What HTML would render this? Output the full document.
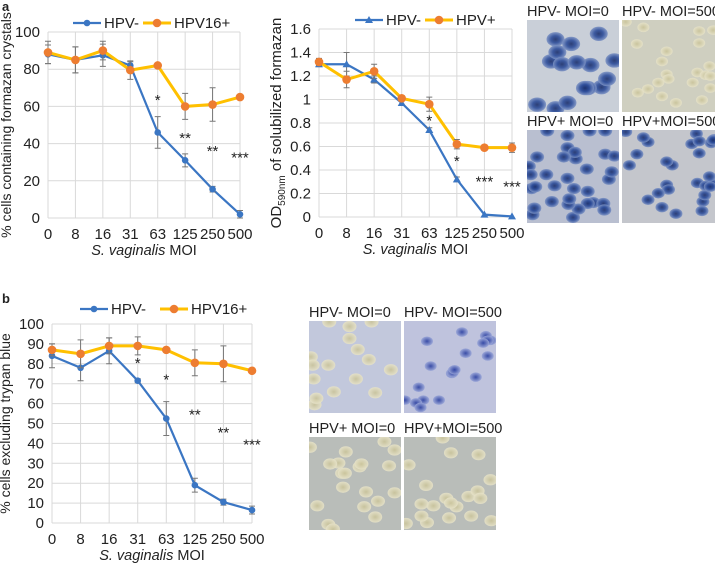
<!DOCTYPE html>
<html><head><meta charset="utf-8">
<style>
body{margin:0;background:#fff;width:715px;height:564px;overflow:hidden;font-family:"Liberation Sans",sans-serif;}
svg{position:absolute;left:0;top:0}
text{font-family:"Liberation Sans",sans-serif;fill:#222}
</style></head>
<body>
<svg id="fig" width="715" height="564" viewBox="0 0 715 564">
<defs>
<radialGradient id="cellDark"><stop offset="0" stop-color="#1b2f6b"/><stop offset="0.5" stop-color="#2d4d9a"/><stop offset="1" stop-color="#7d93c4"/></radialGradient>
<radialGradient id="cellPale"><stop offset="0" stop-color="#c9c39a"/><stop offset="1" stop-color="#e6e2c8"/></radialGradient>
<radialGradient id="cellBlue"><stop offset="0" stop-color="#2a3fa0"/><stop offset="1" stop-color="#9aa6d8"/></radialGradient>
</defs>
<text x="2" y="11" font-size="13" font-weight="bold">a</text>
<text x="2" y="303" font-size="13" font-weight="bold">b</text>
<g id="chartA"></g>
<g id="chartB"></g>
<g id="chartC"></g>
<g id="imgs"></g>
</svg>
<script>
// ---------- data ----------
const categories = ["0","8","16","31","63","125","250","500"];
// Chart A
const aNeg = [88,85,87.5,82,46,31,15.5,2];
const aNegErr = [5,7,6,2,8.5,3.5,1.5,2];
const aPos = [89,85,90,79.5,82,60,61,65];
const aPosErr = [6,7,5,5,0,7,9,0];
const aTicks = [0,20,40,60,80,100];
const aStars = [["*",4,64],["**",5,43.5],["**",6,36.5],["***",7,33]];
// Chart B
const bNeg = [1.30,1.30,1.17,0.97,0.74,0.32,0.02,0.005];
const bNegErr = [0.02,0.1,0.03,0.02,0.02,0.02,0,0];
const bPos = [1.32,1.17,1.24,1.01,0.96,0.62,0.59,0.59];
const bPosErr = [0.03,0.07,0.06,0.02,0.06,0.04,0,0.04];
const bTicks = [0,0.2,0.4,0.6,0.8,1,1.2,1.4,1.6];
const bTickLabels = ["0","0.2","0.4","0.6","0.8","1","1.2","1.4","1.6"];
const bStars = [["*",4,0.83],["*",5,0.485],["***",6,0.31],["***",7,0.27]];
// Chart C
const cNeg = [84,78,86.5,71.5,52.5,19,10.5,6.5];
const cNegErr = [6,6.5,6.5,1,8.5,3.5,1.5,2];
const cPos = [87,85,89,89,87,80.5,80,76.5];
const cPosErr = [3,7,4,4.5,0,6.5,9,0];
const cTicks = [0,10,20,30,40,50,60,70,80,90,100];
const cStars = [["*",3,81],["*",4,72.5],["**",5,55],["**",6,46],["***",7,40]];

const NS="http://www.w3.org/2000/svg";
function mk(parent,tag,attrs,txt){const e=document.createElementNS(NS,tag);for(const k in attrs)e.setAttribute(k,attrs[k]);if(txt!==undefined)e.textContent=txt;parent.appendChild(e);return e;}
const BLUE="#3b76c3", YEL="#ffc000", ORG="#ed7d31";

function chart(g,cfg){
  const x=i=>cfg.x0+i*(cfg.x1-cfg.x0)/(categories.length-1);
  const y=v=>cfg.y0-(v-cfg.vmin)/(cfg.vmax-cfg.vmin)*(cfg.y0-cfg.y1);
  cfg.ticks.forEach((t,i)=>{
    const l=mk(g,"line",{x1:cfg.x0,x2:cfg.x1,y1:y(t),y2:y(t),stroke:"#d9d9d9","stroke-width":1});
    
    
    const tx=mk(g,"text",{x:cfg.x0-8,y:y(t)+5,"font-size":15,"text-anchor":"end"},cfg.tickLabels?cfg.tickLabels[i]:t);
    
    
  });
  categories.forEach((c,i)=>{
    const l=mk(g,"line",{x1:x(i),x2:x(i),y1:cfg.y1,y2:cfg.y0,stroke:"#d9d9d9","stroke-width":1});
    
    
    const tx=mk(g,"text",{x:x(i),y:cfg.y0+21,"font-size":15,"text-anchor":"middle"},c);
    
    
  });
  const xt=mk(g,"text",{x:(cfg.x0+cfg.x1)/2,y:cfg.y0+37,"font-size":14.5,"text-anchor":"middle"});
  
  
  mk(xt,"tspan",{"font-style":"italic"},"S. vaginalis");mk(xt,"tspan",{},"\u00a0MOI");
  const yt=mk(g,"text",{x:0,y:0,"font-size":cfg.titleFs||14,"text-anchor":"middle",transform:`translate(${cfg.titleX},${(cfg.y0+cfg.y1)/2+cfg.titleDy}) rotate(-90)`});
  
  
  cfg.title(yt);
  [[cfg.neg,cfg.negErr,BLUE,BLUE,cfg.tri,"hpv-neg"],[cfg.pos,cfg.posErr,YEL,ORG,false,"hpv-pos"]].forEach(([vals,errs,lc,mc,tri,nm])=>{
    const sg=mk(g,"g",{});
    
    
    const p=mk(sg,"polyline",{points:vals.map((v,i)=>x(i)+","+y(v)).join(" "),fill:"none",stroke:lc,"stroke-width":lc===YEL?3:2.2});
    
    
    vals.forEach((v,i)=>{
      if(errs[i]>0){
        const e=mk(sg,"path",{d:`M${x(i)},${y(v+errs[i])}V${y(v-errs[i])}M${x(i)-3},${y(v+errs[i])}h6M${x(i)-3},${y(v-errs[i])}h6`,stroke:"#777","stroke-width":1,fill:"none"});
        
        
      }
      let m;
      if(tri) m=mk(sg,"path",{d:`M${x(i)},${y(v)-4}l4,7h-8z`,fill:mc});
      else m=mk(sg,"circle",{cx:x(i),cy:y(v),r:lc===YEL?4.3:3.3,fill:mc});
      
      
    });
  });
  cfg.stars.forEach(([s,i,v])=>{
    const t=mk(g,"text",{x:x(i),y:y(v)+6,"font-size":15,"text-anchor":"middle"},s);
    
    
  });
  const L=cfg.leg;
  const lg=mk(g,"g",{});
  
  
  mk(lg,"line",{x1:L[0],x2:L[0]+28,y1:L[2],y2:L[2],stroke:BLUE,"stroke-width":2.2});
  if(cfg.tri) mk(lg,"path",{d:`M${L[0]+14},${L[2]-4}l4,7h-8z`,fill:BLUE}); else mk(lg,"circle",{cx:L[0]+14,cy:L[2],r:3.3,fill:BLUE});
  mk(lg,"text",{x:L[0]+31,y:L[2]+5,"font-size":15},"HPV-");
  mk(lg,"line",{x1:L[1],x2:L[1]+28,y1:L[2],y2:L[2],stroke:YEL,"stroke-width":3});
  mk(lg,"circle",{cx:L[1]+14,cy:L[2],r:4.3,fill:ORG});
  mk(lg,"text",{x:L[1]+31,y:L[2]+5,"font-size":15},cfg.posName);
}

chart(document.getElementById("chartA"),{x0:48,x1:240,y0:218,y1:32,vmin:0,vmax:100,ticks:aTicks,
  neg:aNeg,negErr:aNegErr,pos:aPos,posErr:aPosErr,stars:aStars,tri:false,posName:"HPV16+",leg:[73,143,23],
  titleX:11,titleDy:0,titleFs:14,title:t=>{t.textContent="% cells containing formazan crystals";}});
chart(document.getElementById("chartB"),{x0:319,x1:512,y0:217,y1:29,vmin:0,vmax:1.6,ticks:bTicks,tickLabels:bTickLabels,
  neg:bNeg,negErr:bNegErr,pos:bPos,posErr:bPosErr,stars:bStars,tri:true,posName:"HPV+",leg:[355,425,20],
  titleX:281,titleDy:0,titleFs:15,title:t=>{mk(t,"tspan",{},"OD");mk(t,"tspan",{"font-size":10,dy:4},"590nm");mk(t,"tspan",{dy:-4}," of solubilized formazan");}});
chart(document.getElementById("chartC"),{x0:52,x1:252,y0:523,y1:324,vmin:0,vmax:100,ticks:cTicks,
  neg:cNeg,negErr:cNegErr,pos:cPos,posErr:cPosErr,stars:cStars,tri:false,posName:"HPV16+",leg:[80,160,309],
  titleX:10,titleDy:0,titleFs:14,title:t=>{t.textContent="% cells excluding trypan blue";}});

// micrographs
const imgs=[
 {x:527,y:20,w:92,h:92,bg:"#c9cfd8",cell:"url(#cellDark)",n:16,r:9,label:"HPV- MOI=0",name:"micrograph-a-hpv-neg-moi0"},
 {x:622,y:20,w:93,h:92,bg:"#cfcfc0",cell:"url(#cellPale)",n:22,r:6,label:"HPV- MOI=500",name:"micrograph-a-hpv-neg-moi500"},
 {x:527,y:130,w:92,h:93,bg:"#b9bfd0",cell:"url(#cellDark)",n:34,r:7,label:"HPV+ MOI=0",name:"micrograph-a-hpv-pos-moi0"},
 {x:622,y:130,w:93,h:93,bg:"#c4c6cc",cell:"url(#cellDark)",n:28,r:6.5,label:"HPV+MOI=500",name:"micrograph-a-hpv-pos-moi500"},
 {x:309,y:321,w:92,h:92,bg:"#c2c8dc",cell:"url(#cellPale)",n:16,r:7,label:"HPV- MOI=0",name:"micrograph-b-hpv-neg-moi0"},
 {x:404,y:321,w:92,h:92,bg:"#bfc3dd",cell:"url(#cellBlue)",n:20,r:6,label:"HPV- MOI=500",name:"micrograph-b-hpv-neg-moi500"},
 {x:309,y:437,w:92,h:93,bg:"#b9bdb9",cell:"url(#cellPale)",n:20,r:7,label:"HPV+ MOI=0",name:"micrograph-b-hpv-pos-moi0"},
 {x:404,y:437,w:92,h:93,bg:"#b9bdb9",cell:"url(#cellPale)",n:20,r:7,label:"HPV+MOI=500",name:"micrograph-b-hpv-pos-moi500"}
];
const ig=document.getElementById("imgs");
imgs.forEach((m,k)=>{
  const g=mk(ig,"g",{});
  
  
  const t=mk(g,"text",{x:m.x,y:m.y-4,"font-size":14.5},m.label);
  
  
  const cid="clip"+k;
  const cp=mk(g,"clipPath",{id:cid});mk(cp,"rect",{x:m.x,y:m.y,width:m.w,height:m.h});
  mk(g,"rect",{x:m.x,y:m.y,width:m.w,height:m.h,fill:m.bg});
  const cg=mk(g,"g",{"clip-path":`url(#${cid})`});
  let s=k*97+13;
  for(let i=0;i<m.n;i++){
    s=(s*73+29)%997; const cx=m.x+(s%100)/100*m.w;
    s=(s*61+17)%991; const cy=m.y+(s%100)/100*m.h;
    mk(cg,"ellipse",{cx:cx,cy:cy,rx:m.r,ry:m.r*0.8,fill:m.cell,opacity:0.9});
  }
});
</script>
</body></html>
